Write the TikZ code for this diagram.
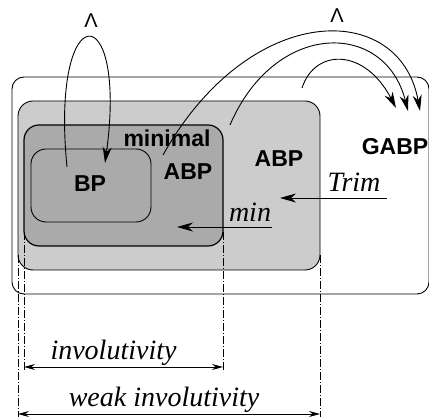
\documentclass[tikz,border=0pt]{standalone}
\usepackage{fontspec}
\setmainfont{Liberation Serif}
\setsansfont{Liberation Sans}
\usepackage{tikz}
\usetikzlibrary{arrows.meta, positioning}
\definecolor{lightgray}{HTML}{CCCCCC}
\definecolor{midgray}{HTML}{AAAAAA}
\tikzstyle{box} = [rectangle, rounded corners=15pt, draw=black, line width=0.9pt, inner sep=0pt, outer sep=0pt]
\tikzstyle{label} = [font=\sffamily\bfseries\fontsize{23}{26}\selectfont, inner sep=0pt, anchor=base]
\tikzstyle{ital} = [font=\itshape\fontsize{28}{30}\selectfont, inner sep=0pt, anchor=base]
\tikzstyle{hat} = [font=\sffamily\fontsize{20}{24}\selectfont, inner sep=0pt, anchor=base]
\tikzstyle{arrow} = [line width=0.9pt,-{Stealth[length=16pt,width=9pt,inset=5pt]}]
\tikzstyle{dim} = [line width=0.9pt,{Stealth[length=11pt,width=6pt]}-{Stealth[length=11pt,width=6pt]}]
\tikzstyle{guide} = [line width=0.7pt, dash pattern=on 8pt off 2pt on 1pt off 2pt]

\begin{document}
\begin{tikzpicture}[x=1pt, y=-1pt]
\useasboundingbox (0,0) rectangle (429,419);
% Boxes
\node (gabpbox) [box, fill=white, minimum width=417pt, minimum height=217pt, rounded corners=12pt] at (220.5,185.5) {};
\node (abpbox) [box, fill=lightgray, minimum width=302pt, minimum height=169pt] at (169,185.5) {};
\node (minbox) [box, fill=midgray, minimum width=199pt, minimum height=121pt, line width=1.2pt] at (123.5,185.5) {};
\node (bpbox) [box, fill=midgray, minimum width=120pt, minimum height=73pt] at (91,185.5) {};

% Labels
\node (bp) [label] at (90,192) {BP};
\node (minimal) [label] at (167,147) {minimal};
\node (minabp) [label] at (188,180) {ABP};
\node (abp) [label] at (279,167) {ABP};
\node (gabp) [label] at (395,155) {GABP};
\node (trim) [ital] at (354,192) {Trim};
\node (min) [ital] at (250,222) {min};
\node (hatleft) [hat] at (91,28) {Λ};
\node (hatright) [hat] at (337,23) {Λ};

% Arrow ends
\coordinate (loopin) at (67,167);
\coordinate (loopout) at (105,163);
\coordinate (froma) at (163,155);
\coordinate (fromb) at (230,125);
\coordinate (fromc) at (302,88);
\coordinate (toa) at (420,111);
\coordinate (tob) at (408,111);
\coordinate (toc) at (396,108);
\coordinate (trimstart) at (387,198);
\coordinate (trimend) at (280,198);
\coordinate (minstart) at (272,227);
\coordinate (minend) at (177,227);

% Arrows
\draw [arrow] (loopin) .. controls (50,-5) and (128,-5) .. (loopout);
\draw [arrow] (froma) .. controls (250,0) and (400,0) .. (toa);
\draw [arrow] (fromb) .. controls (275,20) and (385,20) .. (tob);
\draw [arrow] (fromc) .. controls (315,48) and (365,48) .. (toc);
\draw [arrow] (trimstart) -- (trimend);
\draw [arrow] (minstart) -- (minend);

% Dimension lines
\coordinate (ga) at (18,255);
\coordinate (gb) at (24,232);
\coordinate (gc) at (223,232);
\coordinate (gd) at (320,255);
\coordinate (ha) at (18,417);
\coordinate (hb) at (24,372);
\coordinate (hc) at (223,372);
\coordinate (hd) at (320,417);
\draw [guide] (ga) -- (ha);
\draw [guide] (gb) -- (hb);
\draw [guide] (gc) -- (hc);
\draw [guide] (gd) -- (hd);
\coordinate (invl) at (24,367);
\coordinate (invr) at (223,367);
\coordinate (weakl) at (18,414);
\coordinate (weakr) at (320,414);
\draw [dim] (invl) -- (invr);
\draw [dim] (weakl) -- (weakr);
\node (invtext) [ital] at (113.5,360) {involutivity};
\node (weaktext) [ital] at (164,407) {weak involutivity};
\end{tikzpicture}
\end{document}
